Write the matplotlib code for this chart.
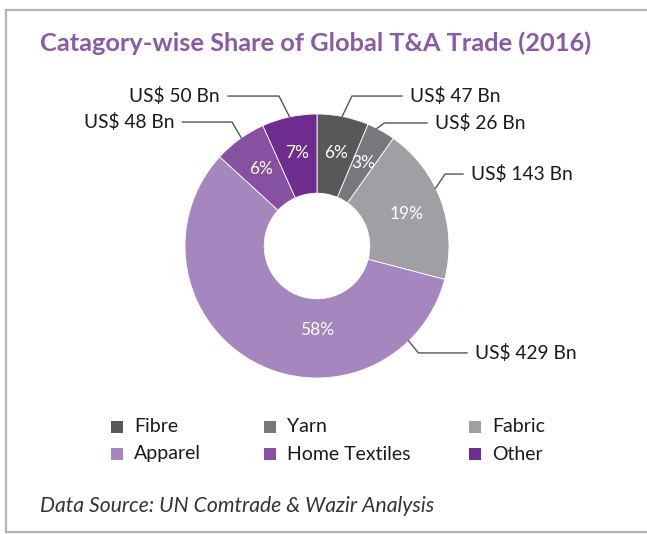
import numpy as np
import matplotlib
matplotlib.use("Agg")
import matplotlib.pyplot as plt
from matplotlib.patches import Rectangle
from matplotlib.lines import Line2D

# data
categories = ["Fibre", "Yarn", "Fabric", "Apparel", "Home Textiles", "Other"]
values_bn = [47, 26, 143, 429, 48, 50]
value_labels = ["US$ 47 Bn", "US$ 26 Bn", "US$ 143 Bn", "US$ 429 Bn", "US$ 48 Bn", "US$ 50 Bn"]
colors = ["#58585a", "#78787c", "#a0a0a4", "#a586be", "#8651a0", "#6e2c8f"]

title = "Catagory-wise Share of Global T&A Trade (2016)"
source = "Data Source: UN Comtrade & Wazir Analysis"

W, H = 647, 534
CX, CY, R = 317, 246, 132       # donut centre / radius in pixels (y from top)

plt.rcParams["font.family"] = ["Lato", "DejaVu Sans"]

fig = plt.figure(figsize=(W / 100, H / 100), dpi=100)
fig.patch.set_facecolor("white")

# axes in which 1 data unit == R pixels, origin at donut centre
ax = fig.add_axes([0, 0, 1, 1])
wedges, _, pct = ax.pie(values_bn, colors=colors, startangle=90, counterclock=False,
                        radius=1.0, autopct="%.0f%%", pctdistance=0.72,
                        wedgeprops=dict(width=0.6, edgecolor="white", linewidth=0.6),
                        textprops=dict(color="white", fontsize=12.5))
ax.set_xlim(-CX / R, (W - CX) / R)
ax.set_ylim(-(H - CY) / R, CY / R)
ax.axis("off")

# apparel % sits straight under the hole in the original
pct[3].set_position((0, -0.64))

# leader lines: anchor angle (deg clockwise from top), elbow, line end
anchors = [11, 27, 64, 136, 325, 348]
elbows = [(0.265, 1.136), (0.51, 0.932), (0.97, 0.545), (0.768, -0.81), (-0.644, 0.939), (-0.288, 1.136)]
ends = [0.644, 0.833, 1.106, 1.136, -1.02, -0.674]

for ang, (ex, ey), x_end, lab in zip(anchors, elbows, ends, value_labels):
    a = np.deg2rad(ang)
    sx, sy = np.sin(a), np.cos(a)
    ax.plot([sx, ex, x_end], [sy, ey, ey], color="#555555", lw=1.0, clip_on=False)
    if x_end > 0:
        ax.text(x_end + 0.06, ey, lab, ha="left", va="center", fontsize=13.8, color="#1a1a1a")
    else:
        ax.text(x_end - 0.06, ey, lab, ha="right", va="center", fontsize=13.8, color="#1a1a1a")


def fx(px):
    return px / W


def fy(py):
    return 1 - py / H


# frame
fig.add_artist(Line2D([fx(6), fx(6)], [fy(10), fy(532)], color="#b3b3b3", lw=1.6))
fig.add_artist(Line2D([fx(6), 1], [fy(10), fy(10)], color="#b3b3b3", lw=1.6))
fig.add_artist(Line2D([fx(6), 1], [fy(532), fy(532)], color="#b3b3b3", lw=1.6))

# title
fig.text(fx(40), fy(43), title, ha="left", va="center", fontsize=18.3,
         fontweight="bold", color="#8a5aa8")

# legend
leg_x = [111, 264, 469]
leg_y = [427, 454]
for i, (cat, col) in enumerate(zip(categories, colors)):
    r, c = divmod(i, 3)
    x0, y0 = leg_x[c], leg_y[r]
    fig.add_artist(Rectangle((fx(x0), fy(y0 + 6)), 12 / W, 12 / H, facecolor=col,
                             edgecolor="none", transform=fig.transFigure))
    fig.text(fx(x0 + 23), fy(y0), cat, ha="left", va="center", fontsize=14, color="#1a1a1a")

# source
fig.text(fx(40), fy(506), source, ha="left", va="center", fontsize=15.2,
         style="italic", color="#333333")

fig.savefig("out.png", dpi=100)
